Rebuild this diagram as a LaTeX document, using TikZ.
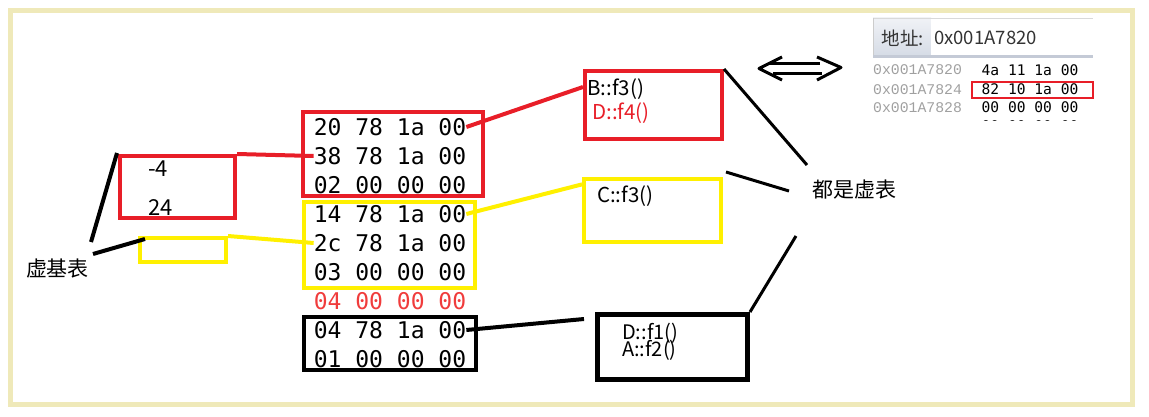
\documentclass[tikz,border=0pt]{standalone}
\usepackage{fontspec}
\setmainfont{Noto Sans CJK SC}
\newfontfamily\hexfont{DejaVu Sans Mono}
\newfontfamily\addrfont{Liberation Mono}
\usetikzlibrary{calc}
\definecolor{pred}{RGB}{232,30,40}
\definecolor{pyel}{RGB}{255,240,0}
\definecolor{framecol}{RGB}{239,233,185}
\definecolor{rtext}{RGB}{240,60,60}
\definecolor{hdrtop}{RGB}{240,242,246}
\definecolor{hdrbot}{RGB}{214,220,230}
\definecolor{hdrbar}{RGB}{196,202,214}
\definecolor{addrgray}{RGB}{160,160,160}
\begin{document}
\begin{tikzpicture}[x=1pt,y=-1pt,
  hex/.style={font=\hexfont\fontsize{23}{23}\selectfont, inner sep=0pt, anchor=center},
  hexs/.style={font=\hexfont\fontsize{14.6}{14.6}\selectfont, inner sep=0pt, anchor=center},
  addr/.style={font=\addrfont\fontsize{14.8}{14.8}\selectfont, text=addrgray, inner sep=0pt, anchor=west},
  box/.style={draw, line width=4pt, inner sep=0pt},
  lbl/.style={font=\fontsize{20.5}{20.5}\selectfont, inner sep=0pt, anchor=base west},
  big/.style={font=\fontsize{22}{22}\selectfont, inner sep=0pt, anchor=base west},
  cjk/.style={font=\fontsize{21}{21}\selectfont, inner sep=0pt, anchor=center},
  conn/.style={line width=4pt},
  thin/.style={line width=3pt}]
\useasboundingbox (0,0) rectangle (1149,417);
% frame
\draw[framecol, line width=5pt] (10,10.5) rectangle (1132.5,404.5);

% middle memory boxes
\node[box,draw=pred,minimum width=180pt,minimum height=84pt] (vt1) at (393,154) {};
\node[box,draw=pyel,minimum width=171pt,minimum height=86pt] (vt2) at (389.5,245) {};
\node[box,draw=black,minimum width=172pt,minimum height=53pt] (vt3) at (390,343.5) {};

% memory rows
\node[hex] (r1) at (390,127) {20 78 1a 00};
\node[hex] (r2) at (390,156) {38 78 1a 00};
\node[hex] (r3) at (390,185) {02 00 00 00};
\node[hex] (r4) at (390,214) {14 78 1a 00};
\node[hex] (r5) at (390,243) {2c 78 1a 00};
\node[hex] (r6) at (390,272) {03 00 00 00};
\node[hex,text=rtext] (r7) at (390,301) {04 00 00 00};
\node[hex] (r8) at (390,330) {04 78 1a 00};
\node[hex] (r9) at (390,359) {01 00 00 00};

% left virtual base table
\node[box,draw=pred,minimum width=115pt,minimum height=62pt] (vb1) at (177.5,187) {};
\node[big] (m4) at (148,177) {-4};
\node[big] (v24) at (148,215) {24};
\node[box,draw=pyel,minimum width=86pt,minimum height=24pt] (vb2) at (183,250) {};
\node[cjk] (vbl) at (57.5,268.5) {虚基表};
\coordinate (p1) at (117,153);
\coordinate (p2) at (91,242);
\coordinate (p3) at (93,254);
\coordinate (p4) at (145,239);
\draw[conn] (p1) -- (p2);
\draw[conn] (p3) -- (p4);
\draw[conn,pred] (vb1.north east) -- (r2.west);
\draw[conn,pyel] (vb2.north east) -- (r5.west);

% function boxes
\node[box,draw=pred,minimum width=137pt,minimum height=68pt] (vfB) at (653.5,105) {};
\node[lbl] (fB1) at (587,96) {B::f3()};
\node[lbl,text=pred] (fB2) at (592,120) {D::f4()};
\node[box,draw=pyel,minimum width=137pt,minimum height=63pt] (vfC) at (652.5,210.5) {};
\node[lbl] (fC1) at (597,202) {C::f3()};
\node[box,draw=black,line width=5pt,minimum width=150pt,minimum height=65pt] (vfD) at (672.5,347) {};
\node[lbl,font=\fontsize{20}{20}\selectfont] (fD1) at (622,339) {D::f1()};
\node[lbl,font=\fontsize{20}{20}\selectfont] (fD2) at (622,356) {A::f2()};

\draw[conn,pred] (r1.east) -- ($(vfB.north west)!0.25!(vfB.south west)$);
\draw[conn,pyel] (r4.east) -- ($(vfC.north west)!0.11!(vfC.south west)$);
\coordinate (q1) at (584,319);
\draw[conn] (r8.east) -- (q1);

% "all are vtables"
\node[cjk] (allv) at (854,190) {都是虚表};
\coordinate (s1) at (807,165);
\coordinate (s2) at (726,172);
\coordinate (s3) at (789,191);
\coordinate (s4) at (796,236);
\draw[thin] (vfB.north east) -- (s1);
\draw[thin] (s2) -- (s3);
\draw[thin] (s4) -- (vfD.north east);

% double arrow
\draw[thin,line join=round] (782,57) -- (759,68.5) -- (782,80);
\draw[thin,line join=round] (817,57) -- (841,67.5) -- (817,80);
\draw[thin] (770,64) -- (820,64);
\draw[thin] (773,74) -- (822,74);

% memory window screenshot
\shade[top color=hdrtop,bottom color=hdrbot] (873,18) rectangle (931,55);
\fill[white] (931,19) rectangle (1093,55);
\draw[gray!30,line width=1pt] (873,18.5) -- (1093,18.5);
\draw[gray!40,line width=1pt] (873.5,18) -- (873.5,55);
\fill[hdrbar] (873,55) rectangle (1093,58);
\node[font=\fontsize{18.5}{18.5}\selectfont,text=black!80,inner sep=0pt] (addrlbl) at (903,38) {地址:};
\node[font=\fontsize{18.5}{18.5}\selectfont,text=black!80,inner sep=0pt,anchor=west] (addrval) at (934,38) {0x001A7820};

\node[addr] (a1) at (873,70) {0x001A7820};
\node[hexs] (h1) at (1030,70) {4a 11 1a 00};
\node[addr] (a2) at (873,89.5) {0x001A7824};
\node[hexs] (h2) at (1030,89.5) {82 10 1a 00};
\node[addr] (a3) at (873,107.5) {0x001A7828};
\node[hexs] (h3) at (1030,107.5) {00 00 00 00};
\begin{scope}
\clip (860,115) rectangle (1100,121);
\node[hexs] (h4) at (1030,126) {00 00 00 00};
\end{scope}
\node[draw=pred,line width=2pt,inner sep=0pt,minimum width=121pt,minimum height=16pt] (hsel) at (1032.5,90) {};
\end{tikzpicture}
\end{document}
